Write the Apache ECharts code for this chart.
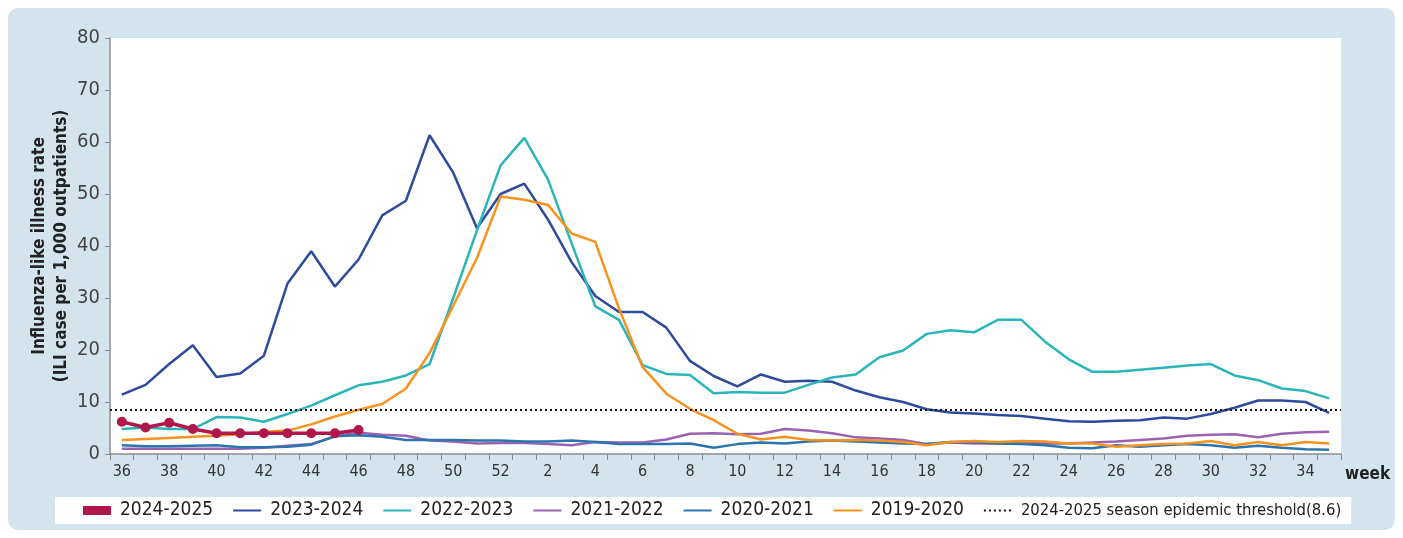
<!DOCTYPE html>
<html>
<head>
<meta charset="utf-8">
<script src="https://cdn.jsdelivr.net/npm/echarts@6/dist/echarts.min.js"></script>
<style>
  html, body { margin: 0; padding: 0; background: #fff; }
  #panel { position: absolute; left: 8px; top: 8px; width: 1387px; height: 522px;
           background: #d4e4ed; border-radius: 10px; }
  #chart { position: absolute; left: 0; top: 0; width: 1403px; height: 538px; }
</style>
</head>
<body>
<div id="panel"></div>
<div id="chart"></div>
<script>
"use strict";

// Surveillance weeks: season runs from week 36 through week 35 of the next year.
const WEEKS = [
  "36", "37", "38", "39", "40", "41", "42", "43", "44", "45", "46", "47", "48",
  "49", "50", "51", "52", "1", "2", "3", "4", "5", "6", "7", "8", "9", "10",
  "11", "12", "13", "14", "15", "16", "17", "18", "19", "20", "21", "22", "23",
  "24", "25", "26", "27", "28", "29", "30", "31", "32", "33", "34", "35",
];

// ILI rate per 1,000 outpatients, one value per week.
const S2024_2025 = [6.2, 5.1, 6.0, 4.8, 4.0, 4.0, 4.0, 4.0, 4.0, 4.0, 4.6];
const S2023_2024 = [
  11.4, 13.3, 17.3, 20.9, 14.8, 15.5, 18.9, 32.8, 39.0, 32.2, 37.4, 45.9, 48.7,
  61.3, 54.1, 43.4, 50.0, 52.0, 45.1, 36.9, 30.4, 27.3, 27.3, 24.3, 17.9, 15.0,
  13.0, 15.3, 13.9, 14.1, 13.9, 12.2, 10.9, 10.0, 8.6, 8.0, 7.8, 7.5, 7.3, 6.8,
  6.3, 6.2, 6.4, 6.5, 7.0, 6.8, 7.7, 8.9, 10.3, 10.3, 10.0, 7.9,
];
const S2022_2023 = [
  4.8, 5.1, 4.8, 4.8, 7.1, 7.0, 6.2, 7.7, 9.3, 11.3, 13.2, 13.9, 15.1,
  17.3, 30.0, 43.0, 55.5, 60.8, 52.8, 40.5, 28.4, 25.8, 17.1, 15.4, 15.2, 11.7,
  11.9, 11.8, 11.8, 13.3, 14.7, 15.3, 18.6, 19.9, 23.1, 23.8, 23.4, 25.8, 25.8,
  21.6, 18.2, 15.8, 15.8, 16.2, 16.6, 17.0, 17.3, 15.1, 14.2, 12.6, 12.1, 10.7,
];
const S2021_2022 = [
  1.0, 1.0, 1.0, 1.0, 1.0, 1.0, 1.2, 1.6, 1.9, 3.4, 4.1, 3.7, 3.5,
  2.6, 2.4, 2.0, 2.1, 2.1, 1.9, 1.7, 2.3, 2.2, 2.2, 2.8, 3.9, 4.0,
  3.8, 3.9, 4.8, 4.5, 4.0, 3.2, 3.0, 2.7, 1.9, 2.2, 2.0, 2.0, 2.2,
  2.0, 2.0, 2.2, 2.4, 2.7, 3.0, 3.5, 3.7, 3.8, 3.2, 3.9, 4.2, 4.3,
];
const S2020_2021 = [
  1.7, 1.5, 1.5, 1.6, 1.7, 1.3, 1.3, 1.4, 1.8, 3.4, 3.6, 3.3, 2.7,
  2.7, 2.7, 2.6, 2.6, 2.4, 2.4, 2.6, 2.3, 1.9, 1.9, 1.9, 2.0, 1.2,
  1.9, 2.2, 2.0, 2.4, 2.6, 2.4, 2.2, 2.0, 1.9, 2.3, 2.3, 2.0, 1.9,
  1.7, 1.2, 1.1, 1.7, 1.4, 1.7, 1.9, 1.7, 1.2, 1.6, 1.2, 0.9, 0.8,
];
const S2019_2020 = [
  2.7, 2.9, 3.1, 3.3, 3.5, 3.8, 4.3, 4.5, 5.7, 7.2, 8.5, 9.6, 12.6,
  19.4, 28.5, 37.7, 49.5, 48.9, 47.9, 42.4, 40.8, 28.0, 16.7, 11.6, 8.7, 6.5,
  3.9, 2.8, 3.3, 2.7, 2.6, 2.7, 2.6, 2.3, 1.7, 2.3, 2.5, 2.3, 2.5,
  2.4, 2.0, 2.0, 1.4, 1.7, 1.9, 2.0, 2.5, 1.7, 2.3, 1.7, 2.3, 2.0,
];

const THRESHOLD = 8.6;
const THRESHOLD_NAME = "2024-2025 season epidemic threshold(8.6)";

const SEASONS = [
  { name: "2023-2024", data: S2023_2024, color: "#2e4a9c" },
  { name: "2022-2023", data: S2022_2023, color: "#2bb5b8" },
  { name: "2021-2022", data: S2021_2022, color: "#9a62b0" },
  { name: "2020-2021", data: S2020_2021, color: "#2c74ae" },
  { name: "2019-2020", data: S2019_2020, color: "#f7921e" },
];

const FONT = "'DejaVu Sans Condensed', 'DejaVu Sans', sans-serif";
const AXIS_GREY = "#8c8c8c";

const chart = echarts.init(document.getElementById("chart"), null, { renderer: "canvas" });

const series = [
  // current season sits on top, with markers
  {
    name: "2024-2025", type: "line", data: S2024_2025, z: 10,
    symbol: "circle", symbolSize: 10,
    itemStyle: { color: "#b0174a" },
    lineStyle: { color: "#b0174a", width: 3.5 },
  },
  ...SEASONS.map((s) => ({
    name: s.name, type: "line", data: s.data, symbol: "none",
    itemStyle: { color: s.color },
    lineStyle: { color: s.color, width: 2.5 },
  })),
  // threshold: empty series so it gets a legend entry, drawn as a markLine
  {
    name: THRESHOLD_NAME, type: "line", data: [], symbol: "none",
    itemStyle: { color: "#111" },
    lineStyle: { color: "#111", width: 2, type: [2, 3] },
    markLine: {
      silent: true, symbol: "none", label: { show: false },
      lineStyle: { color: "#111", width: 2, type: [2, 3] },
      data: [{ yAxis: THRESHOLD }],
    },
  },
];

// legend line icons without the default circle in the middle
const lineItem = (name) => ({ name, itemStyle: { opacity: 0 } });

chart.setOption({
  animation: false,
  textStyle: { fontFamily: FONT },
  grid: { left: 110, right: 62, top: 38, bottom: 84, show: true,
          backgroundColor: "#fff", borderWidth: 0 },
  xAxis: {
    type: "category", data: WEEKS, boundaryGap: true,
    axisLine: { lineStyle: { color: AXIS_GREY, width: 1.5 } },
    axisTick: { show: true, interval: 0, length: 6, lineStyle: { color: AXIS_GREY } },
    axisLabel: { interval: 1, color: "#333", fontSize: 16, margin: 10, fontFamily: FONT },
    name: "week", nameLocation: "end", nameGap: 4,
    nameTextStyle: { color: "#222", fontSize: 17, fontWeight: "bold", fontFamily: FONT,
                     verticalAlign: "top", padding: [12, 0, 0, 0] },
  },
  yAxis: {
    type: "value", min: 0, max: 80, interval: 10,
    splitLine: { show: false },
    axisLine: { show: true, lineStyle: { color: AXIS_GREY, width: 1.5 } },
    axisTick: { show: true, length: 5, lineStyle: { color: AXIS_GREY } },
    axisLabel: { color: "#444", fontSize: 20, margin: 10, fontFamily: FONT },
    name: "Influenza-like illness rate\n(ILI case per 1,000 outpatients)",
    nameLocation: "middle", nameGap: 37, nameMoveOverlap: false,
    nameTextStyle: { color: "#222", fontSize: 17, fontWeight: "bold", lineHeight: 22,
                     fontFamily: FONT },
  },
  legend: {
    left: 55, top: 497, backgroundColor: "#fff",
    padding: [4, 10, 4, 28], itemGap: 19, itemWidth: 28, itemHeight: 9,
    textStyle: { fontFamily: FONT, fontSize: 19, color: "#222", padding: [0, 0, 0, 4],
                 rich: { s: { fontSize: 16.5, fontFamily: FONT, color: "#222" } } },
    formatter: (name) => (name === THRESHOLD_NAME ? "{s|" + name + "}" : name),
    data: [
      { name: "2024-2025", icon: "rect" },
      ...SEASONS.map((s) => lineItem(s.name)),
      lineItem(THRESHOLD_NAME),
    ],
  },
  series,
});
</script>
</body>
</html>
